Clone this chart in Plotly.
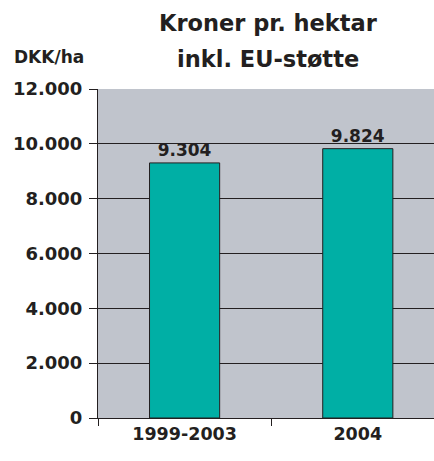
import plotly.graph_objects as go

categories = ["1999-2003", "2004"]
values = [9304, 9824]
y_ticks = [0, 2000, 4000, 6000, 8000, 10000, 12000]

FONT = "DejaVu Sans"
DARK = "#231F20"

W, H = 434, 461
L, R, T, B = 98, 0, 89, 43
pw, ph = W - L - R, H - T - B


def px2paper(px, py):
    return (px - L) / pw, (H - B - py) / ph


fig = go.Figure()
fig.add_trace(go.Bar(
    x=categories, y=values, width=0.405,
    marker=dict(color="#00AFA5", line=dict(color=DARK, width=1)),
    text=values, texttemplate="%{y:,}", textposition="outside",
    textfont=dict(family=FONT, size=17, color=DARK, weight="bold"),
    cliponaxis=False,
))

annotations = []
for txt, x, y, size in [
    ("Kroner pr. hektar", 268, 23, 22.5),
    ("inkl. EU-støtte", 268, 59, 22.5),
    ("DKK/ha", 49, 57, 17),
]:
    ax, ay = px2paper(x, y)
    annotations.append(dict(
        text=txt, x=ax, y=ay, xref="paper", yref="paper",
        xanchor="center", yanchor="middle", showarrow=False,
        font=dict(family=FONT, size=size, color=DARK, weight="bold"),
    ))

fig.update_layout(
    width=W, height=H,
    margin=dict(l=L, r=R, t=T, b=B, autoexpand=False),
    paper_bgcolor="white", plot_bgcolor="#C0C4CC",
    separators=",.",
    showlegend=False,
    font=dict(family=FONT, color=DARK),
    xaxis=dict(
        range=[-0.5, 1.44], showgrid=False, automargin=False,
        ticks="outside", tickson="boundaries", ticklen=7, tickcolor=DARK,
        showline=True, linecolor=DARK, linewidth=1,
        tickfont=dict(family=FONT, size=17.5, color=DARK, weight="bold"),
    ),
    yaxis=dict(
        range=[0, 12000], tickvals=y_ticks, tickformat=",", automargin=False,
        showgrid=True, gridcolor=DARK, gridwidth=1,
        ticks="outside", ticklen=8, tickcolor=DARK, ticklabelstandoff=3,
        showline=True, linecolor=DARK, linewidth=1,
        zeroline=False,
        tickfont=dict(family=FONT, size=18, color=DARK, weight="bold"),
    ),
    annotations=annotations,
)

fig.write_html("out.html", config={"displayModeBar": False},
               post_script="document.body.style.margin='0';")
